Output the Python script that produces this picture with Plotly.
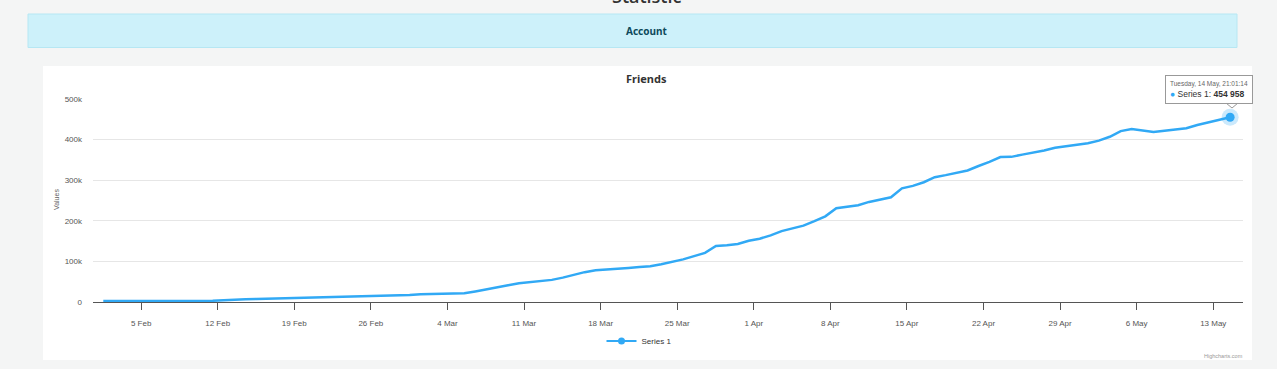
import pandas as pd
import plotly.graph_objects as go

# ---------------- data ----------------
start_date = "2019-01-31 21:01:14"
friends = [
    2500, 2500, 2500, 2500, 2600, 2700, 2800, 2800, 2900, 3000,
    3000, 4500, 6300, 7000, 7600, 8200, 8800, 9500, 10100, 10700,
    11400, 12000, 12600, 13200, 14000, 14600, 15200, 15800, 17000, 19000,
    19500, 20000, 20500, 21500, 26000, 31500, 36000, 41000, 46000, 49000,
    52000, 54500, 60000, 67000, 73500, 78000, 80500, 82000, 84000, 86000,
    88000, 93000, 98500, 105000, 113000, 121000, 138000, 139500, 143000, 151000,
    156000, 164000, 174500, 180500, 188000, 199000, 211000, 231000, 235000, 238500,
    246500, 252000, 258000, 280000, 286000, 295000, 307500, 312500, 318000, 324000,
    335000, 345000, 357000, 357500, 363000, 368000, 373000, 380000, 384500, 387500,
    391000, 397500, 407000, 421000, 426000, 422500, 418500, 422000, 425000, 428000,
    436000, 442500, 447500, 454958,
]
dates = pd.date_range(start_date, periods=len(friends), freq="D")
series_name = "Series 1"
chart_title = "Friends"
y_title = "Values"
x_tick_start = "2019-02-04 08:00"
x_tick_text = ["5 Feb", "12 Feb", "19 Feb", "26 Feb", "4 Mar", "11 Mar", "18 Mar",
               "25 Mar", "1 Apr", "8 Apr", "15 Apr", "22 Apr", "29 Apr", "6 May", "13 May"]
y_ticks = [0, 100000, 200000, 300000, 400000, 500000]
y_tick_text = ["0", "100k", "200k", "300k", "400k", "500k"]

# ---------------- geometry helpers ----------------
W, H = 1277, 369
L, R, T, B = 93, 1243, 99, 302


def px(x):
    return (x - L) / (R - L)


def py(y):
    return (B - y) / (B - T)


BLUE = "#31a9f5"
FONT = "Liberation Sans, Arial, sans-serif"

x_tick_vals = [pd.Timestamp(x_tick_start) + pd.Timedelta(days=7 * i)
               for i in range(len(x_tick_text))]

# x-axis padding around the data (as in the reference)
day_px = 10.94
first_px = 103.3
x_start = dates[0] - pd.Timedelta(days=(first_px - L) / day_px)
x_end = dates[0] + pd.Timedelta(days=(R - first_px) / day_px)

fig = go.Figure()

fig.add_trace(go.Scatter(
    x=dates, y=friends, mode="lines", name=series_name,
    line=dict(color=BLUE, width=2.5),
    showlegend=False, hoverinfo="skip", legendgroup="s1",
))
# hovered (last) point with halo
fig.add_trace(go.Scatter(
    x=[dates[-1]], y=[friends[-1]], mode="markers",
    marker=dict(size=17, color="rgba(49,169,245,0.25)"),
    showlegend=False, hoverinfo="skip", legendgroup="s1",
))
fig.add_trace(go.Scatter(
    x=[dates[-1]], y=[friends[-1]], mode="markers",
    marker=dict(size=9, color=BLUE),
    showlegend=False, hoverinfo="skip", legendgroup="s1",
))
# legend key
fig.add_trace(go.Scatter(
    x=[None], y=[None], mode="lines+markers", name=series_name,
    line=dict(color=BLUE, width=2), marker=dict(size=7, color=BLUE),
    showlegend=True, hoverinfo="skip", legendgroup="s1",
))

shapes = [
    # white chart container
    dict(type="rect", xref="paper", yref="paper", layer="below",
         x0=px(43), x1=px(1252), y0=py(360), y1=py(66),
         fillcolor="white", line=dict(width=0)),
    # Account bar
    dict(type="rect", xref="paper", yref="paper", layer="below",
         x0=px(28), x1=px(1237), y0=py(47.5), y1=py(14),
         fillcolor="#cdf1fa", line=dict(color="#b6e7f3", width=1)),
    # tooltip pointer
    dict(type="path", xref="paper", yref="paper", layer="above",
         path=f"M {px(1226)} {py(103)} L {px(1232)} {py(108)} L {px(1238)} {py(103)} Z",
         fillcolor="white", line=dict(color="#999999", width=1)),
]

last = dates[-1]
tooltip_time = f"{last:%A}, {last.day} {last:%b}, {last:%H:%M:%S}"
value_txt = f"{friends[-1]:,}".replace(",", " ")
annotations = [
    dict(text="Statistic", xref="paper", yref="paper", x=px(646), y=py(10),
         xanchor="center", yanchor="bottom", showarrow=False,
         font=dict(family="Open Sans", size=18, color="#333333", weight=600)),
    dict(text="<b>Account</b>", xref="paper", yref="paper", x=px(646), y=py(31),
         xanchor="center", yanchor="middle", showarrow=False,
         font=dict(family="Noto Sans", size=10, color="#0e4a5c")),
    dict(text=f"<b>{chart_title}</b>", xref="paper", yref="paper", x=px(646), y=py(79),
         xanchor="center", yanchor="middle", showarrow=False,
         font=dict(family="Noto Sans", size=11, color="#333333")),
    dict(text=y_title, xref="paper", yref="paper", x=px(56), y=py(200),
         xanchor="center", yanchor="middle", showarrow=False, textangle=-90,
         font=dict(family=FONT, size=7, color="#666666")),
    dict(text="Highcharts.com", xref="paper", yref="paper", x=px(1245), y=py(356),
         xanchor="right", yanchor="middle", showarrow=False,
         font=dict(family=FONT, size=5.5, color="#999999")),
    dict(text=(f"<span style='font-size:6.5px;color:#666666'>{tooltip_time}</span><br>"
               f"<span style='color:{BLUE}'>●</span> {series_name}: <b>{value_txt}</b>"),
         xref="paper", yref="paper", x=px(1209), y=py(90),
         xanchor="center", yanchor="middle", showarrow=False, align="left",
         bgcolor="rgba(255,255,255,0.97)", bordercolor="#999999", borderwidth=1,
         borderpad=4, font=dict(family=FONT, size=8.5, color="#333333")),
]

fig.update_layout(
    width=W, height=H,
    margin=dict(l=L, r=W - R, t=T, b=H - B),
    paper_bgcolor="#f4f5f5",
    plot_bgcolor="rgba(0,0,0,0)",
    shapes=shapes,
    annotations=annotations,
    showlegend=True,
    legend=dict(orientation="h", x=px(639), xanchor="center", y=py(341), yanchor="middle",
                font=dict(family=FONT, size=8, color="#333333"),
                bgcolor="rgba(0,0,0,0)", itemwidth=30),
    hovermode=False,
)

fig.update_xaxes(
    type="date", range=[x_start, x_end],
    tickvals=x_tick_vals, ticktext=x_tick_text,
    ticks="outside", ticklen=7, tickcolor="#555555", tickwidth=1,
    showline=True, linecolor="#555555", linewidth=1,
    showgrid=False, zeroline=False,
    tickfont=dict(family=FONT, size=8, color="#555555"),
    ticklabelstandoff=6,
)
fig.update_yaxes(
    range=[0, 500000], tickvals=y_ticks, ticktext=y_tick_text,
    showgrid=True, gridcolor="#e6e6e6", gridwidth=1,
    zeroline=False, showline=False, ticks="",
    tickfont=dict(family=FONT, size=8, color="#555555"),
    ticklabelstandoff=10,
)

fig.write_html(
    "out.html",
    config={"displayModeBar": False},
    post_script="document.body.style.margin='0';document.body.style.overflow='hidden';"
                "document.documentElement.style.overflow='hidden';",
)
